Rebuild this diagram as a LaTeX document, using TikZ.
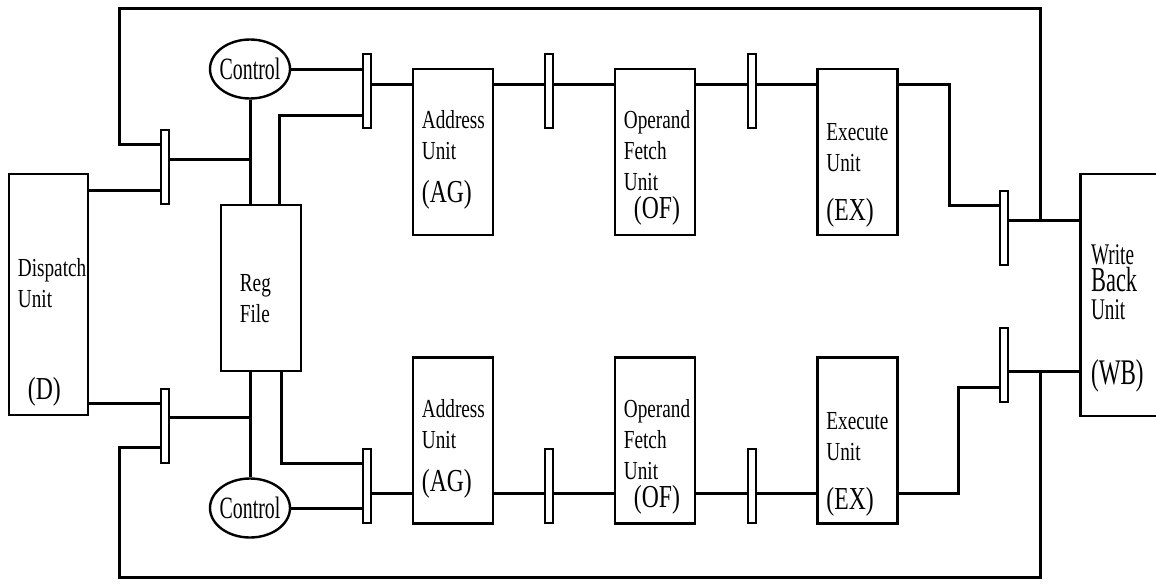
\documentclass[tikz,border=0pt]{standalone}
\usepackage{fontspec}
\usepackage{tikz}
\usetikzlibrary{calc,shapes.geometric}
\newfontfamily\condA[FakeStretch=0.74]{Liberation Serif}
\newfontfamily\condB[FakeStretch=0.64]{Liberation Serif}

\begin{document}
\begin{tikzpicture}[x=1pt, y=-1pt,
    wire/.style={line width=3pt},
    unitbox/.style={draw, rectangle, line width=2.6pt, minimum width=80pt, minimum height=166pt, inner sep=0pt},
    latch/.style={draw, rectangle, fill=white, line width=2pt, minimum width=8pt, minimum height=74pt, inner sep=0pt},
    ctrl/.style={draw, ellipse, line width=2.4pt, minimum width=80pt, minimum height=59pt, inner sep=0pt, font=\condB\fontsize{31}{31}\selectfont},
    txt/.style={inner sep=0pt, align=left, anchor=north west, font=\condA\fontsize{26}{31}\selectfont},
    tag/.style={inner sep=0pt, anchor=base west, font=\condA\fontsize{32}{36}\selectfont},
    wbtxt/.style={inner sep=0pt, anchor=base west, font=\condB\fontsize{30}{30}\selectfont},
    wbtag/.style={inner sep=0pt, anchor=base west, font=\condB\fontsize{36}{36}\selectfont}]
    \useasboundingbox (0,0) rectangle (1156,584);
    \clip (0,0) rectangle (1156,584);

    % units
    \node[unitbox, minimum width=79pt, minimum height=241pt] (disp) at (48.5,294.5) {};
    \node[unitbox] (reg) at (261,288) {};
    \node[unitbox] (agA) at (453,152) {};
    \node[unitbox] (ofA) at (655,152) {};
    \node[unitbox] (exA) at (857.5,152) {};
    \node[unitbox] (agB) at (453,440.5) {};
    \node[unitbox] (ofB) at (655,440.5) {};
    \node[unitbox] (exB) at (857.5,440.5) {};
    \node[unitbox, minimum width=100pt, minimum height=242pt] (wb) at (1130.2,295) {};

    % control
    \node[ctrl] (ctlA) at (250,69) {\makebox[0pt]{Control}};
    \node[ctrl] (ctlB) at (250,508) {\makebox[0pt]{Control}};

    % latches
    \node[latch] (L1) at (165,167) {};
    \node[latch] (L2) at (165,425.5) {};
    \node[latch] (L3) at (367,91) {};
    \node[latch] (L4) at (367,485.5) {};
    \node[latch] (L5) at (549,91) {};
    \node[latch] (L6) at (752,91) {};
    \node[latch] (L7) at (1004,227.5) {};
    \node[latch] (L8) at (549,485.5) {};
    \node[latch] (L9) at (752,485.5) {};
    \node[latch] (L10) at (1004,364.5) {};

    % labels
    \node[txt] (dispT) at ([xshift=10pt, yshift=-86pt]disp.north west) {Dispatch\\Unit};
    \node[tag] (dispG) at ([xshift=20pt, yshift=-227pt]disp.north west) {(D)};
    \node[txt] (regT) at ([xshift=20pt, yshift=-71pt]reg.north west) {Reg\\File};
    \node[txt] (agAT) at ([xshift=10pt, yshift=-43pt]agA.north west) {Address\\Unit};
    \node[tag] (agAG) at ([xshift=10pt, yshift=-135pt]agA.north west) {(AG)};
    \node[txt] (ofAT) at ([xshift=10pt, yshift=-43pt]ofA.north west) {Operand\\Fetch\\Unit};
    \node[tag] (ofAG) at ([xshift=20pt, yshift=-151pt]ofA.north west) {(OF)};
    \node[txt] (exAT) at ([xshift=10pt, yshift=-56pt]exA.north west) {Execute\\Unit};
    \node[tag] (exAG) at ([xshift=10pt, yshift=-153pt]exA.north west) {(EX)};
    \node[txt] (agBT) at ([xshift=10pt, yshift=-43pt]agB.north west) {Address\\Unit};
    \node[tag] (agBG) at ([xshift=10pt, yshift=-135pt]agB.north west) {(AG)};
    \node[txt] (ofBT) at ([xshift=10pt, yshift=-43pt]ofB.north west) {Operand\\Fetch\\Unit};
    \node[tag] (ofBG) at ([xshift=20pt, yshift=-151pt]ofB.north west) {(OF)};
    \node[txt] (exBT) at ([xshift=10pt, yshift=-56pt]exB.north west) {Execute\\Unit};
    \node[tag] (exBG) at ([xshift=10pt, yshift=-153pt]exB.north west) {(EX)};
    \node[wbtxt] (wbW) at ([xshift=12pt, yshift=-92pt]wb.north west) {Write};
    \node[wbtag, font=\condB\fontsize{35}{35}\selectfont] (wbB) at ([xshift=12pt, yshift=-119pt]wb.north west) {Back};
    \node[wbtxt] (wbU) at ([xshift=12pt, yshift=-147pt]wb.north west) {Unit};
    \node[wbtag] (wbG) at ([xshift=12pt, yshift=-212pt]wb.north west) {(WB)};

    % wire levels
    \coordinate (lvDa) at (0,190);
    \coordinate (lvDb) at (0,403);
    \coordinate (lvLa) at (0,144);
    \coordinate (lvLb) at (0,447);
    \coordinate (lvRa) at (0,159);
    \coordinate (lvRb) at (0,417);
    \coordinate (lvFa) at (0,115);
    \coordinate (lvFb) at (0,463);
    \coordinate (rowA) at (0,84);
    \coordinate (rowB) at (0,493);
    \coordinate (lvXa) at (0,205);
    \coordinate (lvXb) at (0,387);
    \coordinate (lvWa) at (0,220);
    \coordinate (lvWb) at (0,371);
    \coordinate (jogA) at (949,0);
    \coordinate (jogB) at (958,0);
    \coordinate (loopNW) at (119,8);
    \coordinate (loopSE) at (1040,577);

    % dispatch -> latches
    \draw[wire] (disp.east |- lvDa) -- (L1.west |- lvDa);
    \draw[wire] (disp.east |- lvDb) -- (L2.west |- lvDb);
    % outer loop
    \draw[wire] (L1.west |- lvLa) -| (loopNW) -| (loopSE |- lvWa);
    \draw[wire] (L2.west |- lvLb) -| (loopNW |- loopSE) -| (loopSE |- lvWb);
    % reg file bus
    \draw[wire] (L1.east |- lvRa) -- (ctlA.south |- lvRa);
    \draw[wire] (L2.east |- lvRb) -- (ctlB.north |- lvRb);
    \draw[wire] (ctlA.south) -- (ctlA.south |- reg.north);
    \draw[wire] (ctlB.north) -- (ctlB.north |- reg.south);
    \draw[wire] ([xshift=18pt]reg.north) |- (L3.west |- lvFa);
    \draw[wire] ([xshift=20pt]reg.south) |- (L4.west |- lvFb);
    \draw[wire] (ctlA.east) -- (ctlA.east -| L3.west);
    \draw[wire] (ctlB.east) -- (ctlB.east -| L4.west);
    % pipelines
    \draw[wire] (L3.east |- rowA) -- (agA.west |- rowA) (agA.east |- rowA) -- (L5.west |- rowA)
        (L5.east |- rowA) -- (ofA.west |- rowA) (ofA.east |- rowA) -- (L6.west |- rowA)
        (L6.east |- rowA) -- (exA.west |- rowA);
    \draw[wire] (L4.east |- rowB) -- (agB.west |- rowB) (agB.east |- rowB) -- (L8.west |- rowB)
        (L8.east |- rowB) -- (ofB.west |- rowB) (ofB.east |- rowB) -- (L9.west |- rowB)
        (L9.east |- rowB) -- (exB.west |- rowB);
    \draw[wire] (exA.east |- rowA) -| (jogA |- lvXa) -- (L7.west |- lvXa);
    \draw[wire] (exB.east |- rowB) -| (jogB |- lvXb) -- (L10.west |- lvXb);
    % write back
    \draw[wire] (L7.east |- lvWa) -- (wb.west |- lvWa);
    \draw[wire] (L10.east |- lvWb) -- (wb.west |- lvWb);
\end{tikzpicture}
\end{document}
